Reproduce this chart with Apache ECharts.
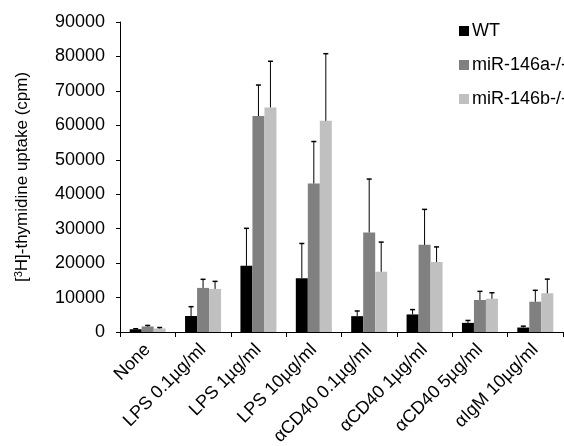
<!DOCTYPE html>
<html>
<head>
<meta charset="utf-8">
<script src="https://cdn.jsdelivr.net/npm/echarts@6/dist/echarts.min.js"></script>
<style>
  html, body { margin: 0; padding: 0; background: #fff; }
  #chart { width: 564px; height: 446px; }
</style>
</head>
<body>
<div id="chart"></div>
<script>
var categories = ['None', 'LPS 0.1µg/ml', 'LPS 1µg/ml', 'LPS 10µg/ml', 'αCD40 0.1µg/ml', 'αCD40 1µg/ml', 'αCD40 5µg/ml', 'αIgM 10µg/ml'];
var seriesNames = ['WT', 'miR-146a-/-', 'miR-146b-/-'];
var wtValues = [800, 4650, 19200, 15600, 4600, 5100, 2650, 1300];
var wtErr = [150, 2700, 10900, 10100, 1500, 1400, 700, 400];
var aValues = [1600, 12800, 62700, 43100, 28900, 25300, 9300, 8800];
var aErr = [300, 2500, 9000, 12200, 15500, 10300, 2500, 3300];
var bValues = [1000, 12500, 65200, 61300, 17500, 20300, 9650, 11250];
var bErr = [300, 2200, 13400, 19500, 8600, 4400, 1750, 4100];
var yTicks = [0, 10000, 20000, 30000, 40000, 50000, 60000, 70000, 80000, 90000];

var colors = ['#000000', '#808080', '#c0c0c0'];
var barW = 12;

var myChart = echarts.init(document.getElementById('chart'), null, {renderer: 'canvas'});

// error bar: vertical line above the bar + short cap
function errorSeries(idx, values, errs) {
    var data = [];
    for (var i = 0; i < values.length; i++) {
        data.push([i, values[i], values[i] + errs[i]]);
    }
    return {
        type: 'custom',
        name: seriesNames[idx] + ' err',
        z: 5,
        silent: true,
        data: data,
        renderItem: function (params, api) {
            var lo = api.coord([api.value(0), api.value(1)]);
            var hi = api.coord([api.value(0), api.value(2)]);
            var x = lo[0] + (idx - 1) * barW;
            return {
                type: 'group',
                children: [
                    {type: 'line', shape: {x1: x, y1: lo[1], x2: x, y2: hi[1]}, style: {stroke: '#000', lineWidth: 1}},
                    {type: 'line', shape: {x1: x - 2.5, y1: hi[1], x2: x + 2.5, y2: hi[1]}, style: {stroke: '#000', lineWidth: 1.5}}
                ]
            };
        }
    };
}

var option = {
    animation: false,
    textStyle: {fontFamily: 'Liberation Sans, Arial, sans-serif'},
    legend: {
        orient: 'vertical',
        left: 454,
        top: 17,
        itemWidth: 10,
        itemHeight: 10,
        itemGap: 16,
        icon: 'rect',
        data: seriesNames,
        textStyle: {fontSize: 18, color: '#000', padding: [0, 0, 0, -2]}
    },
    grid: {left: 120, right: 1, top: 22, bottom: 114, outerBoundsMode: 'none'},
    xAxis: {
        type: 'category',
        data: categories,
        axisLine: {lineStyle: {color: '#000', width: 1}},
        axisTick: {show: true, length: 5, lineStyle: {color: '#000'}},
        axisLabel: {rotate: 45, fontSize: 18, color: '#000', margin: 15, interval: 0}
    },
    yAxis: {
        type: 'value',
        min: yTicks[0],
        max: yTicks[yTicks.length - 1],
        interval: 10000,
        name: '{n|[}{s|3}{n|H]-thymidine uptake (cpm)}',
        nameLocation: 'middle',
        nameGap: 88,
        nameTextStyle: {
            rich: {
                n: {fontSize: 17, color: '#000'},
                s: {fontSize: 11, color: '#000', verticalAlign: 'top', padding: [0, 0, 8, 0]}
            }
        },
        axisLine: {show: true, lineStyle: {color: '#000', width: 1}},
        axisTick: {show: true, length: 4, lineStyle: {color: '#000'}},
        splitLine: {show: false},
        axisLabel: {fontSize: 18, color: '#000', margin: 15, formatter: function (v) { return String(v); }}
    },
    series: [
        {name: seriesNames[0], type: 'bar', data: wtValues, barWidth: barW, barGap: '0%', itemStyle: {color: colors[0]}},
        {name: seriesNames[1], type: 'bar', data: aValues, barWidth: barW, barGap: '0%', itemStyle: {color: colors[1]}},
        {name: seriesNames[2], type: 'bar', data: bValues, barWidth: barW, barGap: '0%', itemStyle: {color: colors[2]}},
        errorSeries(0, wtValues, wtErr),
        errorSeries(1, aValues, aErr),
        errorSeries(2, bValues, bErr)
    ]
};
myChart.setOption(option);
</script>
</body>
</html>
